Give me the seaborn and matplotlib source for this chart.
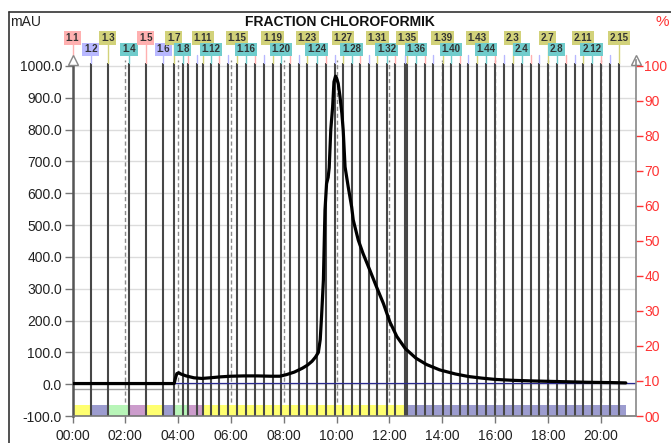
import matplotlib
matplotlib.use("Agg")
import matplotlib.pyplot as plt
import matplotlib.transforms as mtransforms
from matplotlib.lines import Line2D
import seaborn as sns
import pandas as pd

# ---- data ----
TIME_H = [0, 3.85, 3.9, 3.95, 4.02, 4.1, 4.3, 4.6, 4.9, 5.2, 5.6, 6.0, 6.5, 7.0, 7.5, 7.85,
          8.1, 8.4, 8.7, 8.9, 9.07, 9.2, 9.31, 9.38, 9.43, 9.5, 9.56, 9.62, 9.68, 9.72, 9.78,
          9.85, 9.9, 9.96, 10.0, 10.06, 10.13, 10.2, 10.25, 10.32, 10.44, 10.57, 10.63, 10.82,
          11.0, 11.26, 11.51, 11.77, 12.02, 12.28, 12.6, 13.0, 13.4, 13.9, 14.5, 15.0, 15.5,
          16.0, 16.7, 17.5, 18.5, 19.5, 20.4, 20.95]
ABS_MAU = [2, 2, 20, 33, 36, 32, 26, 20, 18, 20, 23, 25, 26, 26, 25, 25,
           30, 38, 50, 60, 72, 85, 100, 140, 212, 327, 547, 630, 650, 680, 800,
           872, 950, 968, 962, 945, 903, 850, 798, 683, 620, 557, 516, 453,
           411, 358, 306, 254, 195, 150, 112, 82, 62, 45, 32, 24, 19,
           15, 12, 10, 8, 6, 5, 4]

FRACTION_NAMES = [f"1.{i}" for i in range(1, 45)] + [f"2.{i}" for i in range(1, 16)]
FRACTION_START_H = [0.00, 0.69, 1.34, 2.14, 2.78, 3.43, 3.84, 4.18, 4.37, 4.71, 4.94, 5.24,
                    5.55, 5.89, 6.23, 6.57, 6.91, 7.25, 7.58, 7.89, 8.23, 8.57, 8.89, 9.25,
                    9.60, 9.94, 10.25, 10.57, 10.89, 11.23, 11.54, 11.90, 12.21, 12.59, 12.66,
                    13.01, 13.35, 13.66, 14.02, 14.33, 14.67, 14.99, 15.33, 15.66,
                    16.00, 16.34, 16.67, 17.01, 17.35, 17.68, 18.00, 18.33, 18.69, 19.03,
                    19.33, 19.66, 20.00, 20.35, 20.69]
TUBE_COLORS = ["#ffb0b0", "#b8b8ff", "#d2d27a", "#70cccc"]

BAR_EDGES_H = [0.0, 0.70, 1.34, 2.14, 2.78, 3.43, 3.90, 4.41, 4.94, 12.66, 20.95]
BAR_COLORS = ["#ffff70", "#9c9ccf", "#b8f5b8", "#cc9ccc", "#ffff70",
              "#9c9ccf", "#b8f5b8", "#cc9ccc", "#ffff70", "#9c9ccf"]

Y_TICKS = list(range(-100, 1001, 100))
Y_TICK_LABELS = [f"{v:.1f}" for v in Y_TICKS]
X_TICKS_H = list(range(0, 21, 2))
X_TICK_LABELS = [f"{h:02d}:00" for h in X_TICKS_H]
PCT_TICKS = list(range(0, 101, 10))
PCT_LABELS = ["00"] + [str(v) for v in range(10, 101, 10)]
BASELINE_MAU = 5

# ---- style ----
sns.set_style("white")
plt.rcParams["font.family"] = ["Liberation Sans", "DejaVu Sans"]

W, H = 671, 443
fig = plt.figure(figsize=(W / 100, H / 100), dpi=100)
ax_left, ax_right, ax_bottom, ax_top = 72.5, 636, 416, 59.6
ax = fig.add_axes([ax_left / W, (H - ax_bottom) / H, (ax_right - ax_left) / W,
                   (ax_bottom - ax_top) / H])
px_per_h = 26.41
XMAX = (ax_right - ax_left) / px_per_h
YMIN, YMAX = -100, 1020
ax.set_xlim(0, XMAX)
ax.set_ylim(YMIN, YMAX)

# grid
for y in range(0, 1001, 100):
    ax.axhline(y, color="#dcdcdc", lw=1, zorder=0)
for h in X_TICKS_H[1:]:
    ax.axvline(h, color="#8a8a8a", lw=1, ls=(0, (3, 2)), zorder=1)

# bottom colored bar
for i, c in enumerate(BAR_COLORS):
    ax.barh(y=-83, width=BAR_EDGES_H[i + 1] - BAR_EDGES_H[i], left=BAR_EDGES_H[i],
            height=34, color=c, edgecolor="none", zorder=1.5)

ax.axhline(-15, color="#a0a0a0", lw=1, zorder=1.8)

# fraction lines
ax.vlines(FRACTION_START_H, YMIN, 1010, color="#474747", lw=1.5, zorder=2)

ax.axhline(BASELINE_MAU, color="#2a2a90", lw=0.9, zorder=2.5)

# curve
df = pd.DataFrame({"t": TIME_H, "mAU": ABS_MAU})
sns.lineplot(data=df, x="t", y="mAU", color="black", lw=2.3, ax=ax, zorder=3)
ax.set_xlabel("")
ax.set_ylabel("")

# fraction pins + labels
trans = mtransforms.blended_transform_factory(ax.transData, ax.transAxes)
span = ax_bottom - ax_top


def ay(px):
    return (ax_bottom - px) / span


y_pin0 = (1010 - YMIN) / (YMAX - YMIN)
row_y = [ay(38), ay(49.5)]
for i, (name, h) in enumerate(zip(FRACTION_NAMES, FRACTION_START_H)):
    col = TUBE_COLORS[i % 4]
    labeled = i < 8 or (i % 4) in (2, 3)
    ry = row_y[0] if (i % 4) in (0, 2) else row_y[1]
    top = ry if labeled else ay(55)
    ax.plot([h, h], [y_pin0, top], transform=trans, color=col, lw=1.0,
            clip_on=False, zorder=4)
    if labeled:
        ax.text(h, ry, name, transform=trans, ha="center", va="center",
                fontsize=7, fontweight="bold", color="#333333",
                bbox=dict(boxstyle="square,pad=0.18", fc=col, ec="none"),
                clip_on=False, zorder=5)

# spines / ticks
ax.spines["top"].set_visible(False)
ax.spines["left"].set_color("#555555")
ax.spines["left"].set_linewidth(1.8)
ax.spines["bottom"].set_color("#777777")
ax.spines["bottom"].set_linewidth(1.2)
ax.spines["right"].set_visible(False)
ax.set_yticks(Y_TICKS, Y_TICK_LABELS)
ax.set_xticks(X_TICKS_H, X_TICK_LABELS)
ax.tick_params(axis="y", direction="out", length=6, width=1, color="#777777",
               labelsize=10, labelcolor="#222222", pad=1.5, left=True)
ax.tick_params(axis="x", direction="out", length=5, width=1, color="#777777",
               labelsize=10, labelcolor="#222222", pad=4, bottom=True)

ax2 = ax.twinx()
ax2.set_ylim((YMIN + 100) / 11, (YMAX + 100) / 11)
ax2.set_yticks(PCT_TICKS, PCT_LABELS)
for s in ["left", "top", "bottom"]:
    ax2.spines[s].set_visible(False)
ax2.spines["right"].set_color("#888888")
ax2.spines["right"].set_linewidth(1.2)
ax2.tick_params(axis="y", direction="out", length=5, width=1, colors="#ff3333",
                labelsize=10, pad=1, right=True)

# spine arrows
for xa, ec in [(0, "#888888"), (1, "#888888")]:
    ax.plot([xa], [1.0], transform=ax.transAxes, marker="^", ms=7, mfc="white",
            mec=ec, mew=1, clip_on=False, zorder=6)

# figure texts and frame
fig.text(10 / W, 1 - 22 / H, "mAU", fontsize=10, ha="left", va="center", color="#222222")
fig.text(340 / W, 1 - 22 / H, "FRACTION CHLOROFORMIK", fontsize=10, fontweight="bold",
         ha="center", va="center", color="#111111")
fig.text(662 / W, 1 - 22 / H, "%", fontsize=11, ha="center", va="center", color="#ff3333")
fig.add_artist(Line2D([9 / W, 9 / W], [0, 1 - 12 / H], color="#333333", lw=1.2,
                      transform=fig.transFigure))
fig.add_artist(Line2D([9 / W, 1], [1 - 12 / H, 1 - 12 / H], color="#333333", lw=1.2,
                      transform=fig.transFigure))

fig.savefig("out.png", dpi=100)
